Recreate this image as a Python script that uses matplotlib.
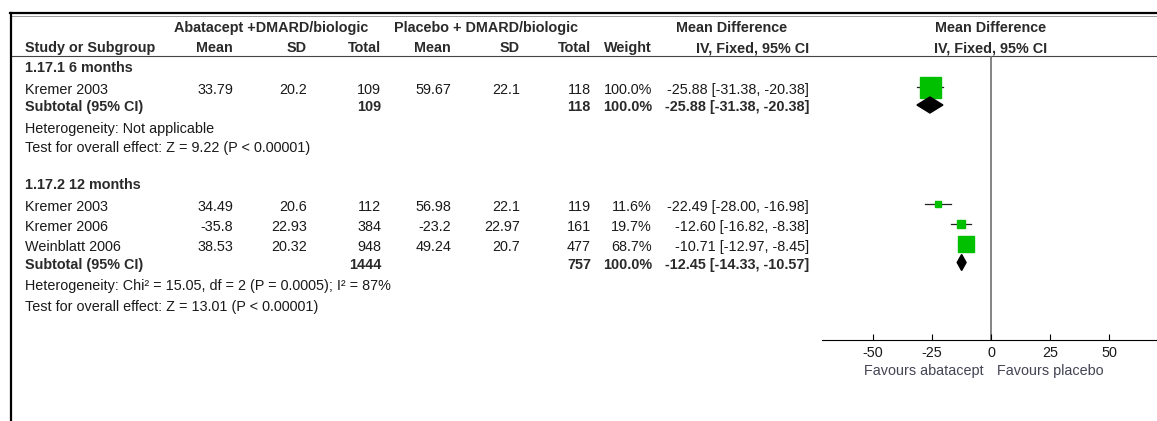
import matplotlib
matplotlib.use("Agg")
import matplotlib.pyplot as plt

# Forest plot: abatacept + DMARD/biologic vs placebo + DMARD/biologic

plt.rcParams['font.family'] = ['Liberation Sans', 'DejaVu Sans']

# Data.

groups = ['1.17.1 6 months', '1.17.2 12 months']
studies = [['Kremer 2003'], ['Kremer 2003', 'Kremer 2006', 'Weinblatt 2006']]
aba_mean = [[33.79], [34.49, -35.8, 38.53]]
aba_sd = [[20.2], [20.6, 22.93, 20.32]]
aba_n = [[109], [112, 384, 948]]
pla_mean = [[59.67], [56.98, -23.2, 49.24]]
pla_sd = [[22.1], [22.1, 22.97, 20.7]]
pla_n = [[118], [119, 161, 477]]
weight = [[100.0], [11.6, 19.7, 68.7]]
md = [[-25.88], [-22.49, -12.60, -10.71]]
md_lo = [[-31.38], [-28.00, -16.82, -12.97]]
md_hi = [[-20.38], [-16.98, -8.38, -8.45]]

sub_aba_n = [109, 1444]
sub_pla_n = [118, 757]
sub_md = [-25.88, -12.45]
sub_lo = [-31.38, -14.33]
sub_hi = [-20.38, -10.57]
heterogeneity = ['Heterogeneity: Not applicable',
                 'Heterogeneity: Chi\u00b2 = 15.05, df = 2 (P = 0.0005); I\u00b2 = 87%']
overall = ['Test for overall effect: Z = 9.22 (P < 0.00001)',
           'Test for overall effect: Z = 13.01 (P < 0.00001)']

x_ticks = [-50, -25, 0, 25, 50]

# Layout in pixels (figure is 1157 x 421 px at 100 dpi).

W, H = 1157, 421
fs = 10.4
txt = '#1a1a1a'
bold_c = '#2a2a2a'

fig = plt.figure(figsize=(W / 100, H / 100), dpi=100)
ax = fig.add_axes([0, 0, 1, 1])
ax.set_xlim(0, W)
ax.set_ylim(H, 0)
ax.axis('off')

# forest plot area: x 822..1157, y 56..340
fx0, fx1, fy0, fy1 = 822, 1157, 56, 340
fp = fig.add_axes([fx0 / W, 1 - fy1 / H, (fx1 - fx0) / W, (fy1 - fy0) / H])
fp.set_xlim(-71.6, 70.3)
fp.set_ylim(fy1, fy0)
fp.patch.set_alpha(0)
for s in ['top', 'left', 'right']:
    fp.spines[s].set_visible(False)
fp.spines['bottom'].set_linewidth(0.8)
fp.set_yticks([])
fp.set_xticks(x_ticks)
fp.set_xticklabels([str(t) for t in x_ticks], fontsize=fs, color=txt)
fp.tick_params(axis='x', direction='in', length=4.5, width=0.8, pad=4)
fp.axvline(0, color='#707070', lw=1.2, zorder=1)

# column right edges
col_aba_mean, col_aba_sd, col_aba_n = 233, 307, 381
col_pla_mean, col_pla_sd, col_pla_n = 451, 520, 591
col_w, col_ci = 652, 809
x_study = 25


def put(x, y, s, ha='right', bold=False, color=None):
    c = color if color else (bold_c if bold else txt)
    ax.text(x, y + 5.2, s, ha=ha, va='baseline', fontsize=fs,
            fontweight='bold' if bold else 'normal', color=c)


# frame lines
ax.plot([10, W], [13.3, 13.3], color='black', lw=1.6)
ax.plot([12, W], [15.8, 15.8], color='#9a9a9a', lw=0.7)
ax.plot([11, 11], [12.5, H], color='black', lw=1.6)
ax.plot([12, W], [56, 56], color='#444444', lw=0.8)

# headers
put(271, 27, 'Abatacept +DMARD/biologic', ha='center', bold=True)
put(486, 27, 'Placebo + DMARD/biologic', ha='center', bold=True)
put(732, 27, 'Mean Difference', ha='center', bold=True)
put(991, 27, 'Mean Difference', ha='center', bold=True)
put(x_study, 47, 'Study or Subgroup', ha='left', bold=True)
put(col_aba_mean, 47, 'Mean', bold=True)
put(col_aba_sd, 47, 'SD', bold=True)
put(col_aba_n, 47, 'Total', bold=True)
put(col_pla_mean, 47, 'Mean', bold=True)
put(col_pla_sd, 47, 'SD', bold=True)
put(col_pla_n, 47, 'Total', bold=True)
put(col_w, 47, 'Weight', bold=True)
put(col_ci, 47, 'IV, Fixed, 95% CI', bold=True)
put(991, 47, 'IV, Fixed, 95% CI', ha='center', bold=True)

# row positions (text centres) for each subgroup block
group_y = [67, 184]
study_y = [[88.5], [205.5, 225.5, 245.5]]
subtotal_y = [106, 263.5]
het_y = [127.5, 285]
test_y = [147, 305.5]
mk_off = -2

for g in range(len(groups)):
    put(x_study, group_y[g], groups[g], ha='left', bold=True)
    for i, name in enumerate(studies[g]):
        y = study_y[g][i]
        put(x_study, y, name, ha='left')
        put(col_aba_mean, y, str(aba_mean[g][i]))
        put(col_aba_sd, y, str(aba_sd[g][i]))
        put(col_aba_n, y, str(aba_n[g][i]))
        put(col_pla_mean, y, str(pla_mean[g][i]))
        put(col_pla_sd, y, str(pla_sd[g][i]))
        put(col_pla_n, y, str(pla_n[g][i]))
        put(col_w, y, '%.1f%%' % weight[g][i])
        put(col_ci, y, '%.2f [%.2f, %.2f]' % (md[g][i], md_lo[g][i], md_hi[g][i]))
        # whisker + weighted square
        fp.plot([md_lo[g][i], md_hi[g][i]], [y + mk_off, y + mk_off],
                color='#222222', lw=0.9, zorder=2)
        side_px = 4 + 17 * weight[g][i] / 100
        fp.plot(md[g][i], y + mk_off, marker='s', markersize=side_px * 0.72,
                color='#00c000', markeredgecolor='#00c000', zorder=3)
    y = subtotal_y[g]
    put(x_study, y, 'Subtotal (95% CI)', ha='left', bold=True)
    put(col_aba_n, y, str(sub_aba_n[g]), bold=True)
    put(col_pla_n, y, str(sub_pla_n[g]), bold=True)
    put(col_w, y, '100.0%', bold=True)
    put(col_ci, y, '%.2f [%.2f, %.2f]' % (sub_md[g], sub_lo[g], sub_hi[g]), bold=True)
    yc = y + mk_off + 1
    fp.fill([sub_lo[g], sub_md[g], sub_hi[g], sub_md[g]],
            [yc, yc - 8, yc, yc + 8], color='black', zorder=3)
    put(x_study, het_y[g], heterogeneity[g], ha='left')
    put(x_study, test_y[g], overall[g], ha='left')

# favours labels
put(984, 370, 'Favours abatacept', color='#444455')
put(997, 370, 'Favours placebo', ha='left', color='#444455')

fig.savefig('out.png', dpi=100)
